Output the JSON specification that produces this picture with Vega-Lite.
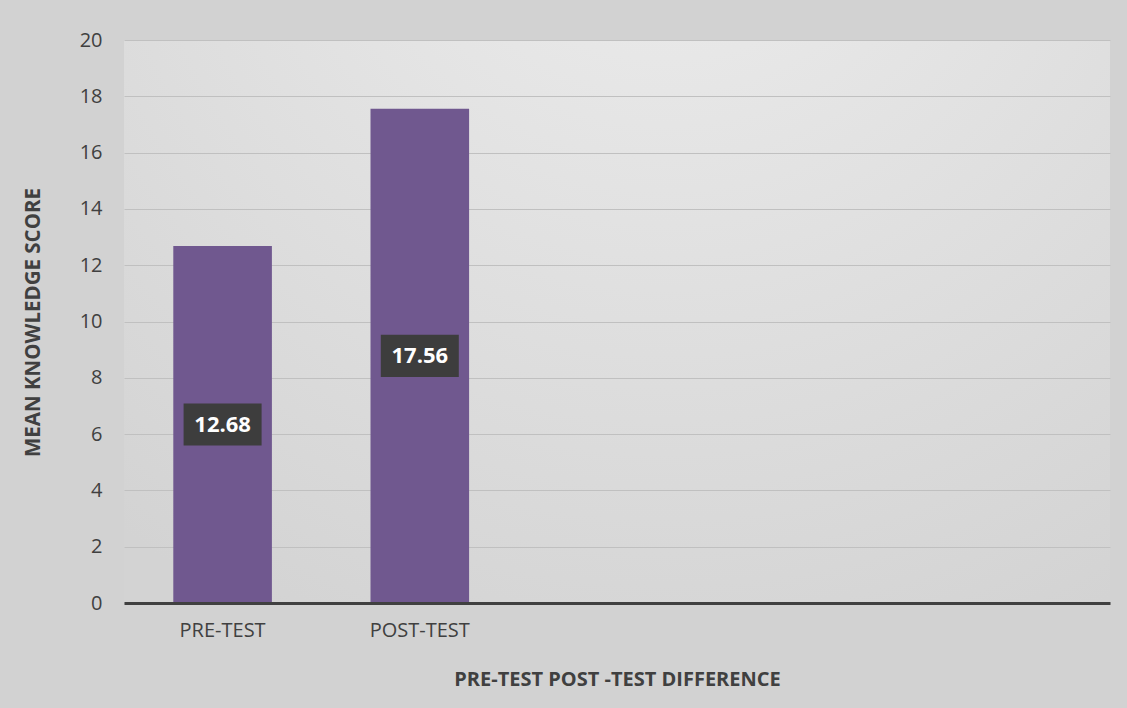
{
  "$schema": "https://vega.github.io/schema/vega-lite/v6.json",
  "width": 986,
  "height": 563,
  "autosize": {"type": "none"},
  "padding": {"left": 124, "top": 40, "right": 17, "bottom": 105},
  "background": "#d2d2d2",
  "config": {
    "font": "Open Sans",
    "view": {
      "stroke": null,
      "fill": {
        "gradient": "radial",
        "x1": 0.55, "y1": 0.0, "r1": 0,
        "x2": 0.55, "y2": 0.0, "r2": 0.9,
        "stops": [
          {"offset": 0, "color": "#eeeeee"},
          {"offset": 1, "color": "#d3d3d3"}
        ]
      }
    }
  },
  "data": {
    "values": [
      {"test": "PRE-TEST", "score": 12.68},
      {"test": "POST-TEST", "score": 17.56}
    ]
  },
  "transform": [{"calculate": "datum.score / 2", "as": "mid"}],
  "encoding": {
    "x": {
      "field": "test",
      "type": "nominal",
      "sort": null,
      "scale": {
        "domain": ["PRE-TEST", "POST-TEST", " ", "  ", "   "],
        "paddingInner": 0.5,
        "paddingOuter": 0.25
      },
      "axis": {
        "title": "PRE-TEST POST -TEST DIFFERENCE",
        "titleFontSize": 20,
        "titleFontWeight": "bold",
        "titleColor": "#404040",
        "titleY": 76,
        "titleBaseline": "middle",
        "labelAngle": 0,
        "labelFontSize": 20,
        "labelColor": "#404040",
        "labelPadding": 17,
        "ticks": false,
        "domainColor": "#404040",
        "domainWidth": 3,
        "zindex": 1
      }
    }
  },
  "layer": [
    {
      "mark": {"type": "bar", "color": "#70588f"},
      "encoding": {
        "y": {
          "field": "score",
          "type": "quantitative",
          "scale": {"domain": [0, 20]},
          "axis": {
            "title": "MEAN KNOWLEDGE SCORE",
            "titleFontSize": 20.5,
            "titleFontWeight": "bold",
            "titleColor": "#404040",
            "titleAngle": -90,
            "titleX": -91,
            "titleY": 282,
            "titleBaseline": "middle",
            "titleAlign": "center",
            "values": [0, 2, 4, 6, 8, 10, 12, 14, 16, 18, 20],
            "labelFontSize": 20,
            "labelColor": "#404040",
            "labelPadding": 22,
            "ticks": false,
            "domain": false,
            "grid": true,
            "gridColor": "#c0c0c0",
            "gridWidth": 1
          }
        }
      }
    },
    {
      "mark": {
        "type": "point",
        "shape": "M-1,-0.54L1,-0.54L1,0.54L-1,0.54Z",
        "filled": true,
        "color": "#3d3d3d",
        "opacity": 1,
        "size": 6084
      },
      "encoding": {
        "y": {"field": "mid", "type": "quantitative"}
      }
    },
    {
      "mark": {
        "type": "text",
        "color": "white",
        "fontWeight": "bold",
        "fontSize": 22,
        "baseline": "middle",
        "align": "center"
      },
      "encoding": {
        "y": {"field": "mid", "type": "quantitative"},
        "text": {"field": "score", "type": "quantitative", "format": ".2f"}
      }
    }
  ]
}
